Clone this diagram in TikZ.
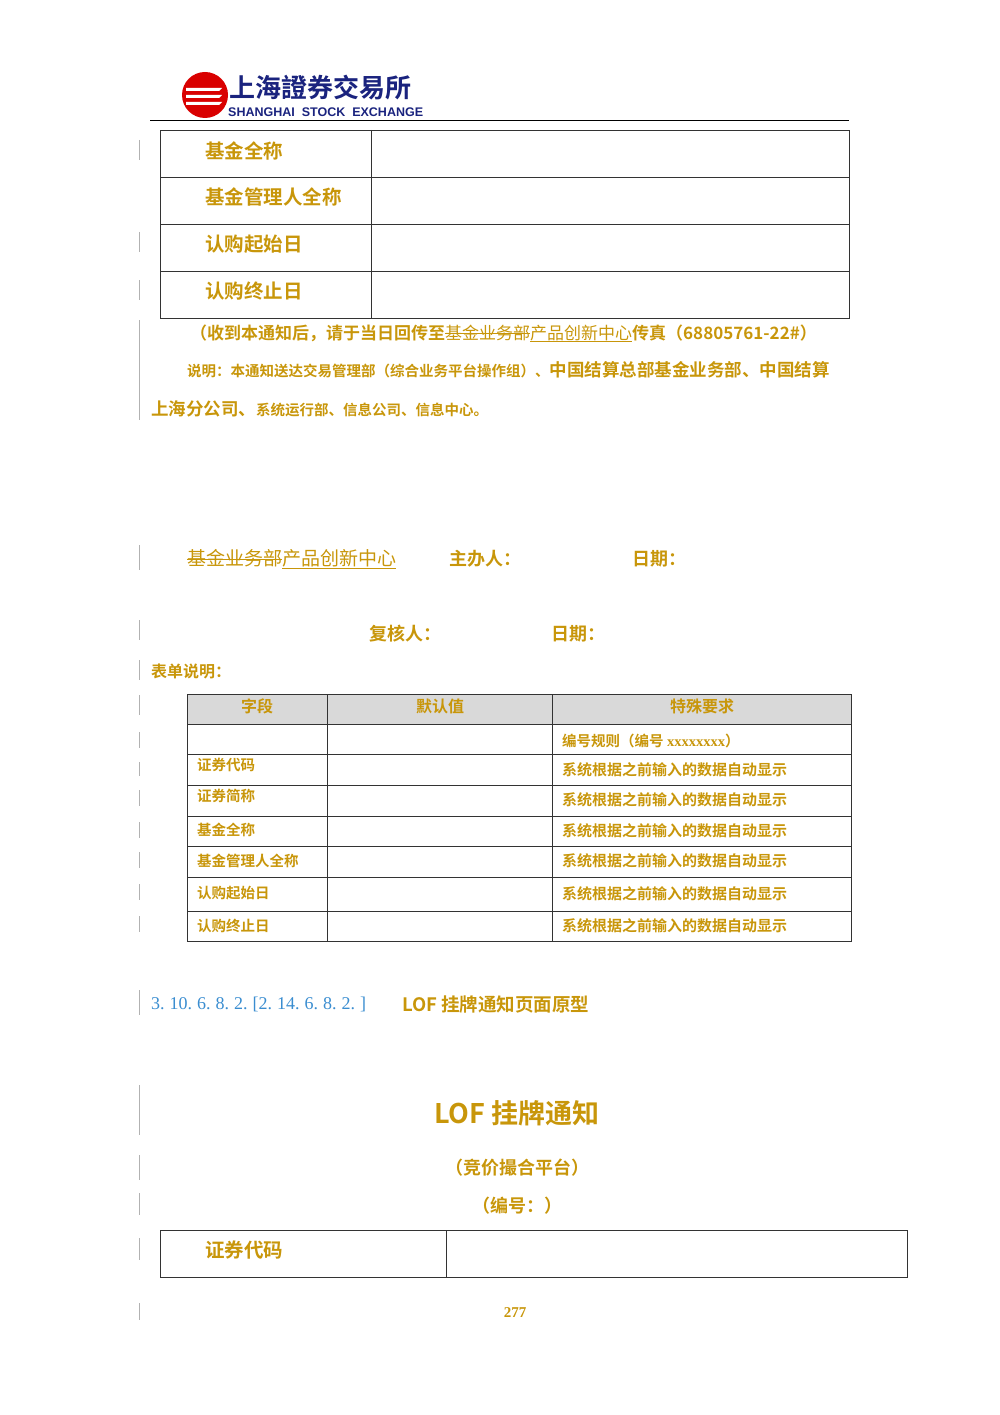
\documentclass[tikz,border=0pt]{standalone}
\usepackage{fontspec}
\setmainfont{Liberation Serif}
\newfontfamily\cjk{Noto Sans CJK SC}[BoldFont={* Bold}]
\newfontfamily\cjktc{Noto Sans CJK TC}[BoldFont={* Bold}]
\newfontfamily\lsans{Liberation Sans}
\definecolor{gold}{HTML}{C8960A}
\definecolor{bluet}{HTML}{3A8DD0}
\definecolor{navy}{HTML}{1A237E}
\definecolor{hdr}{HTML}{D9D9D9}
\newlength\stkw
\newcommand\mystk[1]{\settowidth\stkw{#1}\rlap{\rule[0.32em]{\stkw}{0.6pt}}#1}
\newcommand\myul[1]{\settowidth\stkw{#1}\rlap{\rule[-0.15em]{\stkw}{0.6pt}}#1}
\newcommand\dt{.\hspace{5pt}}
\tikzset{
 gt/.style={text=gold,font=\cjk\bfseries,inner sep=0pt},
 tl/.style={draw=black!80,line width=0.8pt},
 bar/.style={draw=black!30,line width=0.6pt},
}
\begin{document}
\begin{tikzpicture}[x=1pt,y=-1pt]
\useasboundingbox (0,0) rectangle (1000,1415);
% logo
\fill[red!85!black] (205,95) circle (23);
\foreach \yy in {88,95,102}{\fill[white] (186,\yy) -- (222,\yy) -- (219,\yy+3) -- (186,\yy+3) -- cycle;}
\node[anchor=west,text=navy,font=\cjktc\bfseries\fontsize{26}{26}\selectfont,inner sep=0pt] (logo) at (229,88) {上海證券交易所};
\node[anchor=west,text=navy,font=\lsans\bfseries\fontsize{12.5}{13}\selectfont,inner sep=0pt] (logoen) at (228,112) {SHANGHAI\ \ STOCK\ \ EXCHANGE};
\draw[line width=1.2pt] (150,120.5) -- (849,120.5);
% change bars
\foreach \a/\b in {140/160,232/252,280/300,320/420,545/570,620/640,660/680,695/715,732/748,762/776,790/806,822/838,852/868,884/900,916/932,990/1015,1085/1135,1155/1180,1193/1215,1238/1260,1303/1320}{\draw[bar] (139,\a) -- (139,\b);}
% first table
\draw[tl] (160,130) rectangle (849,318);
\foreach \yy in {177,224,271}{\draw[tl] (160,\yy) -- (849,\yy);}
\draw[tl] (371,130) -- (371,318);
\foreach \t/\yy/\n in {基金全称/151/r1,基金管理人全称/197/r2,认购起始日/244/r3,认购终止日/291/r4}{
 \node[gt,anchor=west,font=\cjk\bfseries\fontsize{19.5}{19}\selectfont] (\n) at (205,\yy) {\t};}
\node[gt,anchor=west,font=\cjk\bfseries\fontsize{17}{17}\selectfont] (fax) at (190,333) {（收到本通知后，请于当日回传至{\mdseries\mystk{基金业务部}\myul{产品创新中心}}传真（68805761-22\#）};
\node[gt,anchor=west,font=\cjk\bfseries\fontsize{14.5}{14}\selectfont] (note1) at (187,370) {说明：本通知送达交易管理部（综合业务平台操作组）、{\fontsize{17.5}{16}\selectfont 中国结算总部基金业务部、中国结算}};
\node[gt,anchor=west,font=\cjk\bfseries\fontsize{14.5}{14}\selectfont] (note2) at (151,409) {{\fontsize{17.5}{16}\selectfont 上海分公司、}系统运行部、信息公司、信息中心。};
% signatures
\node[gt,anchor=west,font=\cjk\fontsize{19}{18}\selectfont] (dept) at (187,559) {\mystk{基金业务部}\myul{产品创新中心}};
\node[gt,anchor=west,font=\cjk\bfseries\fontsize{18}{18}\selectfont] (host) at (449,559) {主办人：};
\node[gt,anchor=west,font=\cjk\bfseries\fontsize{18}{18}\selectfont] (d1) at (632,559) {日期：};
\node[gt,anchor=west,font=\cjk\bfseries\fontsize{18}{18}\selectfont] (rev) at (369,634) {复核人：};
\node[gt,anchor=west,font=\cjk\bfseries\fontsize{18}{18}\selectfont] (d2) at (551,634) {日期：};
\node[gt,anchor=west,font=\cjk\bfseries\fontsize{16}{16}\selectfont] (form) at (151,671) {表单说明：};
% second table
\fill[hdr] (187,694) rectangle (851,724);
\draw[tl] (187,694) rectangle (851,941);
\foreach \yy in {724,754,785,816,846,877,911}{\draw[tl] (187,\yy) -- (851,\yy);}
\draw[tl] (327,694) -- (327,941);
\draw[tl] (552,694) -- (552,941);
\node[gt,font=\cjk\bfseries\fontsize{16}{16}\selectfont] (h1) at (257,706) {字段};
\node[gt,font=\cjk\bfseries\fontsize{16}{16}\selectfont] (h2) at (440,706) {默认值};
\node[gt,font=\cjk\bfseries\fontsize{16}{16}\selectfont] (h3) at (702,706) {特殊要求};
\node[gt,anchor=west,font=\cjk\bfseries\fontsize{14.5}{14}\selectfont] (s0) at (562,741) {编号规则（编号 {\rmfamily xxxxxxxx}）};
\foreach \t/\yy/\ya/\n in {证券代码/765/770/a,证券简称/796/800/b,基金全称/830/831/c,基金管理人全称/861/861/d,认购起始日/893/894/e,认购终止日/926/926/f}{
 \node[gt,anchor=west,font=\cjk\bfseries\fontsize{14.5}{14}\selectfont] (f\n) at (197,\yy) {\t};
 \node[gt,anchor=west,font=\cjk\bfseries\fontsize{15}{14}\selectfont] (s\n) at (562,\ya) {系统根据之前输入的数据自动显示};}
% heading
\node[anchor=west,inner sep=0pt,text=bluet,font=\fontsize{18}{18}\selectfont] (num) at (151,1004) {3\dt 10\dt 6\dt 8\dt 2\dt [2\dt 14\dt 6\dt 8\dt 2\dt ]};
\node[gt,anchor=west,font=\cjk\bfseries\fontsize{18.5}{18}\selectfont] (ttl) at (402,1004) {LOF 挂牌通知页面原型};
\node[gt,font=\cjk\bfseries\fontsize{27}{27}\selectfont] (big) at (517,1113) {LOF 挂牌通知};
\node[gt,font=\cjk\bfseries\fontsize{18}{18}\selectfont] (plat) at (517,1168) {（竞价撮合平台）};
\node[gt,font=\cjk\bfseries\fontsize{18}{18}\selectfont] (bh) at (517,1206) {（编号：）};
% third table
\draw[tl] (160,1230) rectangle (907,1277);
\draw[tl] (446,1230) -- (446,1277);
\node[gt,anchor=west,font=\cjk\bfseries\fontsize{19.5}{19}\selectfont] (code) at (205,1250) {证券代码};
\node[gt,font=\bfseries\fontsize{15}{15}\selectfont] (pg) at (515,1313) {277};
\end{tikzpicture}
\end{document}
